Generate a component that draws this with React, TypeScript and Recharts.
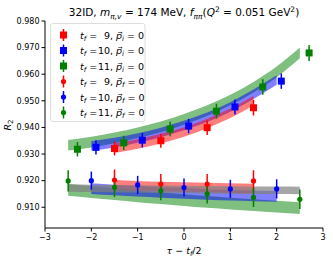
import React from "react";
import {
  Area,
  ComposedChart,
  ErrorBar,
  Scatter,
  XAxis,
  YAxis,
} from "recharts";

// R2 ratio vs tau - t_f/2, fits shown as bands.

const X_TICKS = [-3, -2, -1, 0, 1, 2, 3];
const Y_TICKS = [0.91, 0.92, 0.93, 0.94, 0.95, 0.96, 0.97, 0.98];

// data points (tau - t_f/2)
const TAU_9 = [-1.5, -0.5, 0.5, 1.5];
const TAU_10 = [-2, -1, 0, 1, 2];
const TAU_11 = [-2.5, -1.5, -0.5, 0.5, 1.5, 2.5];

// p_i = 0 (squares)
const PI_9 = [0.9321, 0.935, 0.9399, 0.9474];
const PI_9_ERR = [0.0026, 0.0026, 0.0027, 0.0029];
const PI_10 = [0.9325, 0.9352, 0.9405, 0.9477, 0.9574];
const PI_10_ERR = [0.0027, 0.0027, 0.0027, 0.0028, 0.0029];
const PI_11 = [0.9318, 0.9342, 0.9394, 0.9461, 0.9552, 0.968];
const PI_11_ERR = [0.0027, 0.0027, 0.0027, 0.0028, 0.0029, 0.003];

// p_f = 0 (circles)
const PF_9 = [0.9202, 0.9187, 0.9187, 0.9199];
const PF_9_ERR = [0.004, 0.0038, 0.0038, 0.004];
const PF_10 = [0.92, 0.9184, 0.9174, 0.9169, 0.9169];
const PF_10_ERR = [0.0034, 0.0034, 0.0034, 0.0034, 0.0036];
const PF_11 = [0.9199, 0.9175, 0.9162, 0.915, 0.9137, 0.913];
const PF_11_ERR = [0.004, 0.0036, 0.0036, 0.0036, 0.0036, 0.0037];

// fit bands, centre values on a 0.5 grid
const BAND_X_9 = [-1.5, -1, -0.5, 0, 0.5, 1, 1.5];
const BAND_X_10 = [-2, -1.5, -1, -0.5, 0, 0.5, 1, 1.5, 2];
const BAND_X_11 = [-2.5, -2, -1.5, -1, -0.5, 0, 0.5, 1, 1.5, 2, 2.5];

const FIT_PI_9 = [0.9322, 0.9338, 0.9358, 0.9383, 0.9415, 0.9453, 0.95];
const FIT_PI_10 = [0.933, 0.9343, 0.936, 0.9381, 0.9407, 0.9438, 0.9477, 0.9525, 0.9578];
const FIT_PI_11 = [0.9333, 0.9345, 0.9361, 0.938, 0.9402, 0.943, 0.9463, 0.9503, 0.9551, 0.9609, 0.968];

const FIT_PF_9 = [0.9184, 0.9181, 0.9178, 0.9176, 0.9174, 0.9172, 0.917];
const FIT_PF_10 = [0.917, 0.9165, 0.916, 0.9156, 0.9152, 0.9148, 0.9145, 0.9143, 0.9141];
const FIT_PF_11 = [0.9165, 0.9157, 0.9149, 0.9141, 0.9134, 0.9127, 0.912, 0.9114, 0.9108, 0.9102, 0.9097];
const FIT_CONST = [0.9172, 0.9171, 0.917, 0.9169, 0.9168, 0.9167, 0.9166, 0.9165, 0.9164, 0.9164, 0.9163];

const RED = "#ff0000";
const BLUE = "#0000ff";
const GREEN = "#008000";
const FONT = "DejaVu Sans, sans-serif";

const points = (tau: number[], y: number[], err: number[], dx: number) =>
  tau.map((t, i) => ({ x: t + dx, y: y[i], e: err[i] }));

const band = (xs: number[], mid: number[], hw: number) =>
  xs.map((x, i) => ({ x, r: [mid[i] - hw, mid[i] + hw] }));

const square = (color: string) => (p: any) => (
  <rect x={p.cx - 3.5} y={p.cy - 3.5} width={7} height={7} fill={color} />
);
const dot = (color: string) => (p: any) => (
  <circle cx={p.cx} cy={p.cy} r={2.6} fill={color} />
);

const BANDS = [
  { data: band(BAND_X_11, FIT_PI_11, 0.002), fill: GREEN, op: 0.5 },
  { data: band(BAND_X_10, FIT_PI_10, 0.0018), fill: BLUE, op: 0.5 },
  { data: band(BAND_X_9, FIT_PI_9, 0.0018), fill: RED, op: 0.5 },
  { data: band(BAND_X_11, FIT_PF_11, 0.0022), fill: GREEN, op: 0.5 },
  { data: band(BAND_X_10, FIT_PF_10, 0.002), fill: BLUE, op: 0.5 },
  { data: band(BAND_X_9, FIT_PF_9, 0.0018), fill: RED, op: 0.5 },
  { data: band(BAND_X_11, FIT_CONST, 0.0014), fill: "#808080", op: 0.7 },
];

const SERIES = [
  { data: points(TAU_9, PI_9, PI_9_ERR, 0), color: RED, sq: true },
  { data: points(TAU_10, PI_10, PI_10_ERR, 0.1), color: BLUE, sq: true },
  { data: points(TAU_11, PI_11, PI_11_ERR, 0.2), color: GREEN, sq: true },
  { data: points(TAU_9, PF_9, PF_9_ERR, 0), color: RED, sq: false },
  { data: points(TAU_10, PF_10, PF_10_ERR, 0), color: BLUE, sq: false },
  { data: points(TAU_11, PF_11, PF_11_ERR, 0), color: GREEN, sq: false },
];

const LEGEND = [
  { n: "9", c: RED, sq: true, s: "i" },
  { n: "10", c: BLUE, sq: true, s: "i" },
  { n: "11", c: GREEN, sq: true, s: "i" },
  { n: "9", c: RED, sq: false, s: "f" },
  { n: "10", c: BLUE, sq: false, s: "f" },
  { n: "11", c: GREEN, sq: false, s: "f" },
];

const fmtX = (v: number) => (v < 0 ? `\u2212${-v}` : `${v}`);

function Overlay() {
  const it = { fontStyle: "italic" as const };
  return (
    <svg
      width={333}
      height={260}
      style={{ position: "absolute", left: 0, top: 0, pointerEvents: "none" }}
      fontFamily={FONT}
    >
      <text x={184} y={16} fontSize={10.5} textAnchor="middle" fill="#000">
        32ID, <tspan {...it}>m</tspan>
        <tspan {...it} fontSize={7.5} dy={2.5}>π,v</tspan>
        <tspan dy={-2.5}> = 174 MeV, </tspan>
        <tspan {...it}>f</tspan>
        <tspan {...it} fontSize={7.5} dy={2.5}>ππ</tspan>
        <tspan dy={-2.5}>(</tspan>
        <tspan {...it}>Q</tspan>
        <tspan fontSize={7.5} dy={-4}>2</tspan>
        <tspan dy={4}> = 0.051 GeV</tspan>
        <tspan fontSize={7.5} dy={-4}>2</tspan>
        <tspan dy={4}>)</tspan>
      </text>
      <text x={184} y={254} fontSize={9.5} textAnchor="middle" fill="#000">
        <tspan {...it}>τ</tspan> − <tspan {...it}>t</tspan>
        <tspan {...it} fontSize={7} dy={2}>f</tspan>
        <tspan dy={-2}>/2</tspan>
      </text>
      <text
        x={0}
        y={0}
        fontSize={9.5}
        fill="#000"
        textAnchor="middle"
        transform="translate(11,125) rotate(-90)"
      >
        <tspan {...it}>R</tspan>
        <tspan fontSize={7} dy={2}>2</tspan>
      </text>
      <rect
        x={50.5}
        y={23.5}
        width={94.5}
        height={98}
        rx={2.5}
        fill="#ffffff"
        fillOpacity={0.8}
        stroke="#d6d6d6"
        strokeWidth={0.8}
      />
      {LEGEND.map((l, i) => {
        const y = 35 + i * 15.5;
        return (
          <g key={i}>
            <line x1={63.5} x2={63.5} y1={y - 6} y2={y + 6} stroke={l.c} strokeWidth={1.5} />
            {l.sq ? (
              <rect x={60} y={y - 3.5} width={7} height={7} fill={l.c} />
            ) : (
              <circle cx={63.5} cy={y} r={2.6} fill={l.c} />
            )}
            <text x={80} y={y + 3.5} fontSize={9.5} fill="#000">
              <tspan {...it}>t</tspan>
              <tspan {...it} fontSize={7} dy={2}>f</tspan>
              <tspan dy={-2}> =</tspan>
            </text>
            <text x={110} y={y + 3.5} fontSize={9.5} fill="#000" textAnchor="end">
              {l.n}
            </text>
            <text x={110} y={y + 3.5} fontSize={9.5} fill="#000">
              , <tspan {...it}>{"p\u20D7"}</tspan>
              <tspan {...it} fontSize={7} dy={2}>{l.s}</tspan>
              <tspan dy={-2}> = 0</tspan>
            </text>
          </g>
        );
      })}
    </svg>
  );
}

export default function App() {
  return (
    <div style={{ position: "absolute", left: 0, top: 0, width: 333, height: 260, background: "#fff" }}>
      <ComposedChart width={333} height={260} margin={{ top: 21, right: 10, bottom: 0, left: 7 }}>
        <XAxis
          dataKey="x"
          type="number"
          domain={[-3, 3]}
          ticks={X_TICKS}
          tickFormatter={fmtX}
          allowDataOverflow
          height={32}
          tickSize={3.5}
          tickMargin={3}
          stroke="#000"
          tick={{ fontSize: 8, fontFamily: FONT, fill: "#000" }}
        />
        <XAxis
          xAxisId="top"
          orientation="top"
          type="number"
          domain={[-3, 3]}
          height={0}
          tick={false}
          tickLine={false}
          stroke="#000"
        />
        <YAxis
          type="number"
          domain={[0.9022, 0.98]}
          ticks={Y_TICKS}
          tickFormatter={(v: number) => v.toFixed(3)}
          allowDataOverflow
          width={38}
          tickSize={3.5}
          tickMargin={2}
          stroke="#000"
          tick={{ fontSize: 8, fontFamily: FONT, fill: "#000" }}
        />
        <YAxis
          yAxisId="right"
          orientation="right"
          type="number"
          domain={[0.9022, 0.98]}
          width={0}
          tick={false}
          tickLine={false}
          stroke="#000"
        />
        {BANDS.map((b, i) => (
          <Area
            key={"b" + i}
            data={b.data}
            dataKey="r"
            type="monotone"
            stroke="none"
            fill={b.fill}
            fillOpacity={b.op}
            isAnimationActive={false}
          />
        ))}
        {SERIES.map((s, i) => (
          <Scatter
            key={"s" + i}
            data={s.data}
            dataKey="y"
            shape={s.sq ? square(s.color) : dot(s.color)}
            isAnimationActive={false}
          >
            <ErrorBar dataKey="e" direction="y" width={0} stroke={s.color} strokeWidth={1.5} />
          </Scatter>
        ))}
      </ComposedChart>
      <Overlay />
    </div>
  );
}
